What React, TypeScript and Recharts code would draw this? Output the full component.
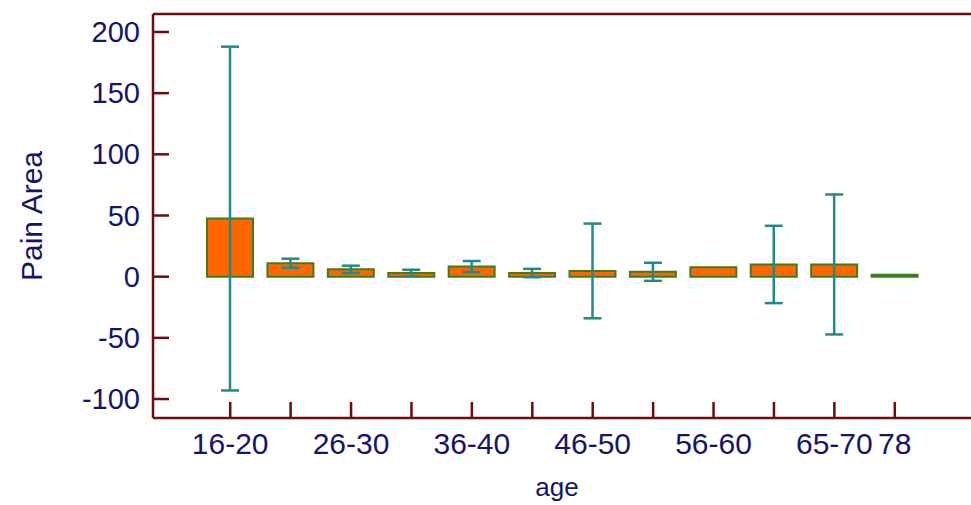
import { BarChart, Bar, XAxis, YAxis, ErrorBar, ReferenceLine } from 'recharts'

const categories = ['16-20', '21-25', '26-30', '31-35', '36-40', '41-45', '46-50', '51-55', '56-60', '61-64', '65-70', '78']
const meanValues = [47.5, 11, 6, 3, 8.3, 3, 4.7, 4, 7.7, 10, 10, 1.5]
const errValues = [140.5, 3.7, 3, 2.7, 4.5, 3.4, 38.7, 7.4, 0, 31.6, 57.2, 0]
const shownLabels = ['16-20', '26-30', '36-40', '46-50', '56-60', '65-70', '78']
const yTicks = [-100, -50, 0, 50, 100, 150, 200]

const data = categories.map((c, i) => ({ age: c, value: meanValues[i], err: errValues[i] }))

const axisColor = '#6e0c0c'
const textColor = '#14146e'
const font = '"Liberation Sans", Arial, sans-serif'

function YTick({ x, y, payload }: any) {
  return (
    <g>
      <line x1={x} x2={x + 16} y1={y} y2={y} stroke={axisColor} strokeWidth={2.5} />
      <text x={x - 13} y={y} dy={10} textAnchor="end" fontSize={29} fontFamily={font} fill={textColor}>
        {payload.value}
      </text>
    </g>
  )
}

function XTick({ x, y, payload }: any) {
  return (
    <g>
      <line x1={x} x2={x} y1={y} y2={y - 16} stroke={axisColor} strokeWidth={2.5} />
      {shownLabels.includes(payload.value) && (
        <text x={x} y={y + 36} textAnchor="middle" fontSize={30} fontFamily={font} fill={textColor}>
          {payload.value}
        </text>
      )}
    </g>
  )
}

const YTitle = () => (
  <text x={31} y={216} transform="rotate(-90 31 216)" textAnchor="middle" dy={11} fontSize={30} fontFamily={font} fill={textColor}>
    Pain Area
  </text>
)

const XTitle = () => (
  <text x={557} y={496} textAnchor="middle" fontSize={26} fontFamily={font} fill={textColor}>
    age
  </text>
)

export default function App() {
  return (
    <div style={{ position: 'fixed', left: 0, top: 0, width: 971, height: 505, overflow: 'hidden', background: '#fff' }}>
      <BarChart width={1000} height={505} data={data} margin={{ top: 14, right: 10, bottom: 0, left: 0 }}>
        <XAxis
          dataKey="age"
          height={87}
          interval={0}
          tickSize={0}
          tickMargin={0}
          tick={<XTick />}
          tickLine={false}
          padding={{ left: 47, right: 65 }}
          axisLine={{ stroke: axisColor, strokeWidth: 2.5 }}
          label={<XTitle />}
        />
        <YAxis
          width={153}
          domain={[-115.5, 214.7]}
          ticks={yTicks}
          allowDataOverflow
          tickSize={0}
          tickMargin={0}
          tick={<YTick />}
          tickLine={false}
          axisLine={{ stroke: axisColor, strokeWidth: 2.5 }}
          label={<YTitle />}
        />
        <ReferenceLine y={214.7} stroke={axisColor} strokeWidth={2.5} />
        <Bar dataKey="value" fill="#ff6600" stroke="#3c7d1e" strokeWidth={2} barSize={46} isAnimationActive={false}>
          <ErrorBar dataKey="err" width={9} stroke="#1f8a8a" strokeWidth={2.5} />
        </Bar>
      </BarChart>
    </div>
  )
}
